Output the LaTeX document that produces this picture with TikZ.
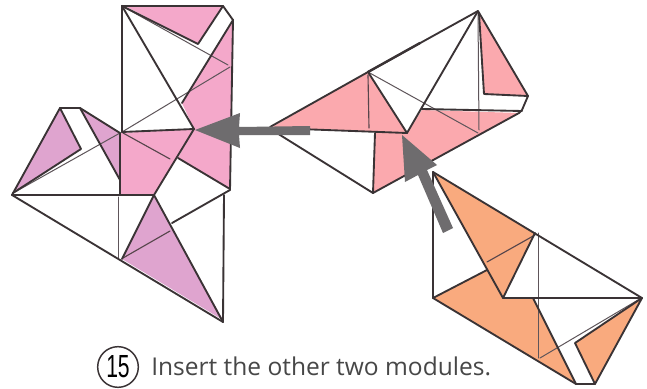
\documentclass[tikz,border=0pt]{standalone}
\usepackage{fontspec}
\setmainfont{Open Sans}
\newfontfamily\numfont{Liberation Sans}
\definecolor{lnk}{HTML}{3A3335}
\definecolor{thinln}{HTML}{5E555A}
\definecolor{pinka}{HTML}{F4A8CA}
\definecolor{mauve}{HTML}{DFA4CF}
\definecolor{salmon}{HTML}{FBA9AE}
\definecolor{peach}{HTML}{F9AA7E}
\definecolor{arrowgr}{HTML}{6E6C6E}
\tikzset{
  fold/.style={draw=lnk,line width=1.4pt,line join=round,line cap=round},
  heavy fold/.style={draw=lnk,line width=1.8pt,line cap=round},
  crease/.style={draw=thinln,line width=0.75pt,line cap=round},
  crease pink/.style={draw=lnk!85!pinka,line width=0.85pt,line cap=round},
  bigarrow/.style={fill=arrowgr,draw=none},
  caption/.style={inner sep=0pt,anchor=base west,font=\fontsize{18.4}{22}\selectfont,text=black!72},
  stepnum/.style={circle,draw=lnk,line width=1.1pt,minimum size=30.5pt,inner sep=0pt,font=\numfont\fontsize{24}{26}\selectfont}
}
\begin{document}
\begin{tikzpicture}[x=0.75pt,y=-0.75pt]
\useasboundingbox (0,0) rectangle (647,389);
\fill[white] (0,0) rectangle (647,389);
% ---- left module: fills
\fill[pinka] (125,6) -- (223,6) -- (198,44) -- cycle;
\fill[pinka] (233,20) -- (230,190) -- (178,158) -- (194,129) -- (182,103) -- cycle;
\fill[pinka] (120,133) -- (194,129) -- (154,195) -- (120,195) -- cycle;
\fill[mauve] (60,108) -- (81,149) -- (13,193) -- cycle;
\fill[mauve] (80,108) -- (120,133) -- (120,180) -- cycle;
\fill[mauve] (154,195) -- (122,259) -- (223,320) -- cycle;
% creases
\draw[crease] (122,6) -- (228,65);
\draw[crease] (122,132) -- (230,67);
\draw[crease pink] (123,133) -- (170,159);
\draw[crease] (15,192) -- (120,133);
\draw[crease] (118,197) -- (118,258);
\draw[crease pink] (123,258) -- (170,231);
% folds
\draw[fold] (122,6) -- (223,6) -- (233,20) -- (230,190) -- (172,223);
\draw[heavy fold] (122,6) -- (122,132);
\draw[fold] (122,6) -- (198,44) -- (223,6);
\draw[fold] (122,6) -- (194,129);
\draw[fold] (122,132) -- (194,129);
\draw[fold] (233,20) -- (182,103);
\draw[fold] (194,129) -- (154,195);
\draw[fold] (178,158) -- (230,189);
\draw[fold] (60,108) -- (80,108) -- (120,133) -- (120,195);
\draw[fold] (60,108) -- (12,195);
\draw[fold] (60,108) -- (81,149) -- (13,193);
\draw[fold] (80,108) -- (120,180);
\draw[fold] (12,195) -- (154,195);
\draw[fold] (12,195) -- (223,322) -- (224,195);
\draw[fold] (154,195) -- (122,259);
\draw[fold] (154,195) -- (223,322);
% ---- middle module: fills
\fill[salmon] (272,127) -- (368,72) -- (407,133) -- cycle;
\fill[salmon] (375,133) -- (407,133) -- (422,110) -- (519,113) -- (373,193) -- cycle;
\fill[salmon] (479,13) -- (484,94) -- (528,96) -- cycle;
% creases
\draw[crease] (368,72) -- (478,133);
\draw[crease] (478,13) -- (479,130);
\draw[crease pink] (368,75) -- (369,128);
% folds
\draw[fold] (270,127) -- (368,72) -- (478,11) -- (528,96) -- (522,110) -- (519,113) -- (373,193);
\draw[heavy fold] (368,72) -- (420,43);
\draw[fold] (478,11) -- (407,133);
\draw[fold] (368,72) -- (407,133);
\draw[fold] (272,128) -- (407,133);
\draw[fold] (272,130) -- (373,193) -- (375,133);
\draw[fold] (479,13) -- (484,94) -- (528,96);
\draw[fold] (422,109) -- (522,111);
% ---- right module: fills
\fill[peach] (433,172) -- (535,233) -- (503,298) -- cycle;
\fill[peach] (433,298) -- (487,270) -- (503,298) -- (533,298) -- (576,384) -- cycle;
\fill[peach] (642,298) -- (575,343) -- (595,384) -- cycle;
% creases
\draw[crease pink] (487,262) -- (535,235);
\draw[crease] (538,233) -- (538,358);
\draw[crease] (540,358) -- (638,300);
% folds
\draw[fold] (433,172) -- (642,298) -- (595,384) -- (576,384) -- (433,298) -- cycle;
\draw[fold] (433,172) -- (503,298) -- (642,298);
\draw[fold] (503,298) -- (535,233);
\draw[fold] (433,298) -- (487,270);
\draw[fold] (533,298) -- (576,384);
\draw[fold] (642,298) -- (575,343) -- (595,384);
% ---- arrows
\fill[bigarrow] (195,130) -- (240,113) -- (239,127) -- (310,126) -- (310,135) -- (239,135) -- (240,148) -- cycle;
\fill[bigarrow] (402,135) -- (437,165) -- (427,170) -- (453,228) -- (443,233) -- (418,175) -- (405,182) -- cycle;
% ---- caption
\node[stepnum] (num) at (118,367) {\scalebox{0.66}[1]{15}};
\node[caption] (cap) at (151,375) {Insert the other two modules.};
\end{tikzpicture}
\end{document}
